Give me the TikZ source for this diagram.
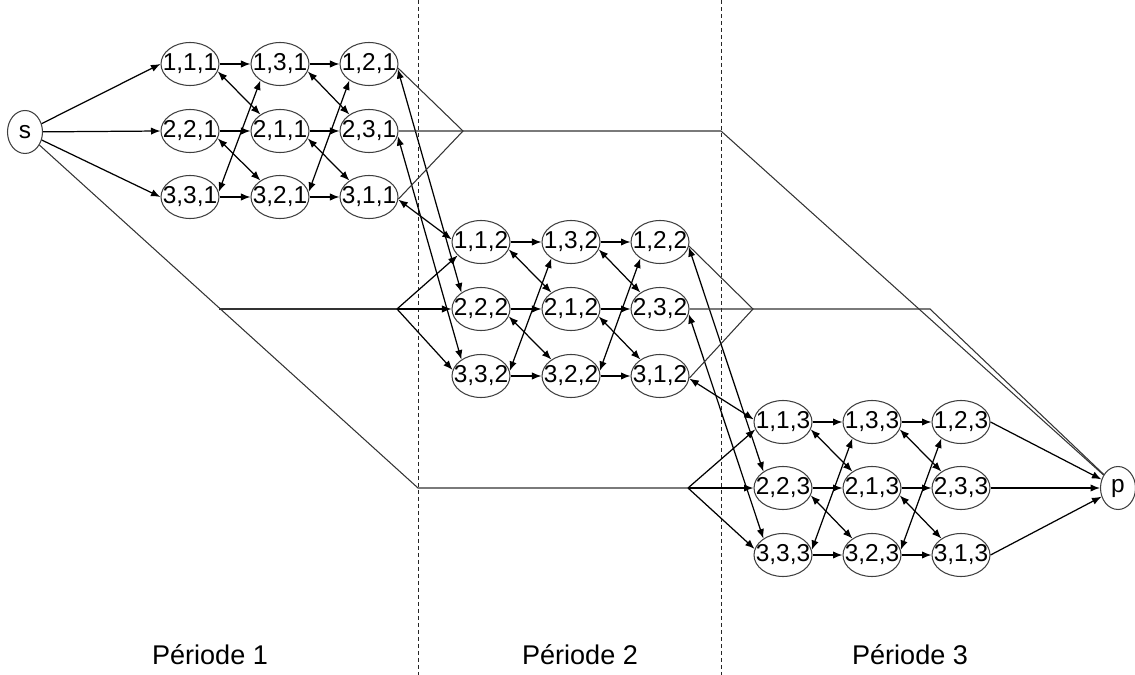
\documentclass[tikz,border=0pt]{standalone}
\usepackage{fontspec}
\setmainfont{Liberation Sans}
\usetikzlibrary{shapes.geometric,arrows.meta}
\begin{document}
\begin{tikzpicture}[x=0.02cm,y=-0.02cm,
  st/.style={ellipse,draw=black!75,line width=0.6pt,minimum width=1.16cm,minimum height=0.86cm,inner sep=0pt,font=\fontsize{13.9}{16}\selectfont},
  term/.style={st,minimum width=0.7cm},
  tip/.tip={Latex[length=5.4pt,width=4.2pt]},
  arr/.style={-tip,line width=0.7pt,black},
  darr/.style={tip-tip,line width=0.7pt,black},
  fine/.style={line width=0.6pt,black!80},
  sep/.style={dash pattern=on 0.08cm off 0.06cm,line width=0.55pt,black!85},
  lab/.style={font=\fontsize{15.4}{18}\selectfont}]
\useasboundingbox (0,0) rectangle (1135,675);

% separators
\coordinate (D1a) at (418,0); \coordinate (D1b) at (418,675);
\coordinate (D2a) at (721,0); \coordinate (D2b) at (721,675);
\draw[sep] (D1a) -- (D1b);
\draw[sep] (D2a) -- (D2b);

% terminals
\node[term] (s) at (25,132) {\makebox[0pt]{s}};
\node[term] (p) at (1118,488) {\makebox[0pt]{p}};

% period 1
\node[st] (n1-1-1) at (190,64) {\makebox[0pt]{1,1,1}};
\node[st] (n1-1-2) at (280,64) {\makebox[0pt]{1,3,1}};
\node[st] (n1-1-3) at (369,64) {\makebox[0pt]{1,2,1}};
\node[st] (n1-2-1) at (190,131) {\makebox[0pt]{2,2,1}};
\node[st] (n1-2-2) at (280,131) {\makebox[0pt]{2,1,1}};
\node[st] (n1-2-3) at (369,131) {\makebox[0pt]{2,3,1}};
\node[st] (n1-3-1) at (190,197) {\makebox[0pt]{3,3,1}};
\node[st] (n1-3-2) at (280,197) {\makebox[0pt]{3,2,1}};
\node[st] (n1-3-3) at (369,197) {\makebox[0pt]{3,1,1}};
% period 2
\node[st] (n2-1-1) at (481,242) {\makebox[0pt]{1,1,2}};
\node[st] (n2-1-2) at (571,242) {\makebox[0pt]{1,3,2}};
\node[st] (n2-1-3) at (660,242) {\makebox[0pt]{1,2,2}};
\node[st] (n2-2-1) at (481,309) {\makebox[0pt]{2,2,2}};
\node[st] (n2-2-2) at (571,309) {\makebox[0pt]{2,1,2}};
\node[st] (n2-2-3) at (660,309) {\makebox[0pt]{2,3,2}};
\node[st] (n2-3-1) at (481,376) {\makebox[0pt]{3,3,2}};
\node[st] (n2-3-2) at (571,376) {\makebox[0pt]{3,2,2}};
\node[st] (n2-3-3) at (660,376) {\makebox[0pt]{3,1,2}};
% period 3
\node[st] (n3-1-1) at (783,422) {\makebox[0pt]{1,1,3}};
\node[st] (n3-1-2) at (872,422) {\makebox[0pt]{1,3,3}};
\node[st] (n3-1-3) at (961,422) {\makebox[0pt]{1,2,3}};
\node[st] (n3-2-1) at (783,488) {\makebox[0pt]{2,2,3}};
\node[st] (n3-2-2) at (872,488) {\makebox[0pt]{2,1,3}};
\node[st] (n3-2-3) at (961,488) {\makebox[0pt]{2,3,3}};
\node[st] (n3-3-1) at (783,555) {\makebox[0pt]{3,3,3}};
\node[st] (n3-3-2) at (872,555) {\makebox[0pt]{3,2,3}};
\node[st] (n3-3-3) at (961,555) {\makebox[0pt]{3,1,3}};

% edges inside each period
\foreach \pp in {1,2,3}{
  \foreach \rr in {1,2,3}{
    \draw[arr] (n\pp-\rr-1.east) -- (n\pp-\rr-2.west);
    \draw[arr] (n\pp-\rr-2.east) -- (n\pp-\rr-3.west);
  }
  \foreach \ca/\cb in {1/2,2/3}{
    \draw[darr] (n\pp-1-\ca.-15) -- (n\pp-2-\cb.140);
    \draw[darr] (n\pp-2-\ca.-15) -- (n\pp-3-\cb.140);
    \draw[darr] (n\pp-3-\ca.10) -- (n\pp-1-\cb.220);
  }
}

% between periods
\foreach \pp/\qq in {1/2,2/3}{
  \draw[darr] (n\pp-1-3.-10) -- (n\qq-2-1.140);
  \draw[darr] (n\pp-2-3.-10) -- (n\qq-3-1.140);
  \draw[darr] (n\pp-3-3.-5) -- (n\qq-1-1.175);
}

% source
\coordinate (A3) at (418,488);
\coordinate (B2) at (219,309);
\coordinate (E2) at (397,309);
\coordinate (E3) at (688,488);
\draw[arr] (s) -- (n1-1-1.west);
\draw[arr] (s) -- (n1-2-1.west);
\draw[arr] (s) -- (n1-3-1.west);
\draw[fine] (s) -- (A3) -- (E3);
\draw[fine] (B2) -- (E2);
\draw[arr] (E2) -- (n2-1-1.210);
\draw[arr] (E2) -- (n2-2-1.west);
\draw[arr] (E2) -- (n2-3-1.168);
\draw[arr] (E3) -- (n3-1-1.195);
\draw[arr] (E3) -- (n3-2-1.west);
\draw[arr] (E3) -- (n3-3-1.168);

% sink
\coordinate (J1) at (463,131);
\coordinate (K1) at (721,131);
\coordinate (J2) at (753,309);
\coordinate (K2) at (930,309);
\draw[fine] (n1-1-3.-8) -- (J1) -- (n1-3-3.-4);
\draw[fine] (n1-2-3.east) -- (K1) -- (p);
\draw[fine] (n2-1-3.-8) -- (J2) -- (n2-3-3.-4);
\draw[fine] (n2-2-3.east) -- (K2) -- (p);
\draw[arr] (n3-1-3.east) -- (p);
\draw[arr] (n3-2-3.east) -- (p.west);
\draw[arr] (n3-3-3.east) -- (p);

% labels
\node[lab] (L1) at (210,655) {Période 1};
\node[lab] (L2) at (580,655) {Période 2};
\node[lab] (L3) at (910,655) {Période 3};
\end{tikzpicture}
\end{document}
